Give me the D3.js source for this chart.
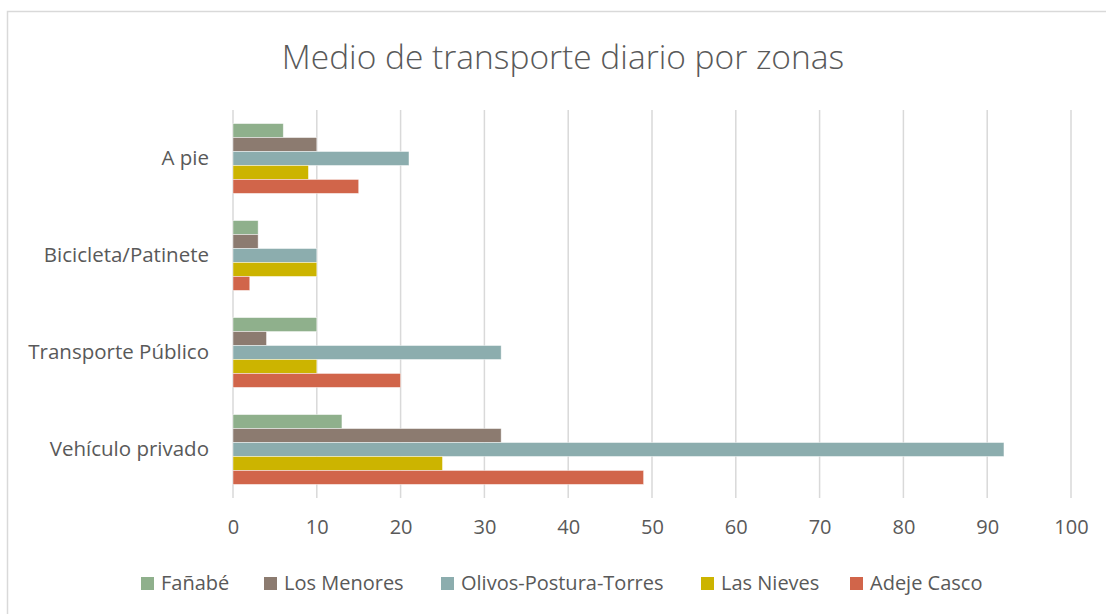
<!DOCTYPE html>
<html lang="es">
<head>
<meta charset="utf-8">
<title>Medio de transporte diario por zonas</title>
<script src="https://d3js.org/d3.v7.min.js"></script>
<style>
  body { margin: 0; background: #fff; }
  svg text { font-family: "Open Sans", "Noto Sans", sans-serif; fill: #595959; }
</style>
</head>
<body>
<div id="chart"></div>
<script>
  // categories (top to bottom) and zones
  var categories = ["A pie", "Bicicleta/Patinete", "Transporte Público", "Vehículo privado"];
  var zones = ["Fañabé", "Los Menores", "Olivos-Postura-Torres", "Las Nieves", "Adeje Casco"];
  var colors = ["#8fb08c", "#8c7b70", "#8cadae", "#ccb400", "#d1654a"];

  // values per zone, in category order
  var fanabe   = [6, 3, 10, 13];
  var menores  = [10, 3, 4, 32];
  var olivos   = [21, 10, 32, 92];
  var nieves   = [9, 10, 10, 25];
  var adeje    = [15, 2, 20, 49];
  var series = [fanabe, menores, olivos, nieves, adeje];

  var xTicks = [0, 10, 20, 30, 40, 50, 60, 70, 80, 90, 100];

  var svgWidth = 1106, svgHeight = 614,
      margin = {top: 110, right: 35, bottom: 116, left: 233},
      width = svgWidth - margin.left - margin.right,
      height = svgHeight - margin.top - margin.bottom;

  var svg = d3.select("#chart").append("svg")
      .attr("width", svgWidth)
      .attr("height", svgHeight);

  // chart frame (cut at right and bottom like the screenshot)
  svg.append("rect")
      .attr("x", 7.5).attr("y", 11.5)
      .attr("width", svgWidth + 20).attr("height", svgHeight + 20)
      .attr("fill", "none")
      .attr("stroke", "#d9d9d9")
      .attr("stroke-width", 1.5);

  svg.append("text")
      .attr("x", 563).attr("y", 69)
      .attr("text-anchor", "middle")
      .style("font-size", "33.5px")
      .style("font-weight", 300)
      .text("Medio de transporte diario por zonas");

  var g = svg.append("g")
      .attr("transform", "translate(" + margin.left + "," + margin.top + ")");

  var x = d3.scaleLinear().domain([0, 100]).range([0, width]);
  var y = d3.scaleBand().domain(categories).range([0, height])
      .paddingInner(0.28).paddingOuter(0.14);
  var y1 = d3.scaleBand().domain(zones).range([0, y.bandwidth()]);

  // gridlines
  g.selectAll("line.grid")
      .data(xTicks)
      .enter().append("line")
      .attr("class", "grid")
      .attr("x1", function(d) { return x(d); })
      .attr("x2", function(d) { return x(d); })
      .attr("y1", 0).attr("y2", height)
      .attr("stroke", "#d9d9d9")
      .attr("stroke-width", 1.5);

  // bars
  var groups = g.selectAll("g.cat")
      .data(categories)
      .enter().append("g")
      .attr("class", "cat")
      .attr("transform", function(d) { return "translate(0," + y(d) + ")"; });

  groups.selectAll("rect")
      .data(function(c, ci) {
        return zones.map(function(z, zi) { return {zone: z, i: zi, value: series[zi][ci]}; });
      })
      .enter().append("rect")
      .attr("x", 0)
      .attr("y", function(d) { return y1(d.zone); })
      .attr("width", function(d) { return x(d.value); })
      .attr("height", y1.bandwidth())
      .attr("fill", function(d) { return colors[d.i]; })
      .attr("stroke", "#ffffff")
      .attr("stroke-opacity", 0.6)
      .attr("stroke-width", 0.75);

  // x axis labels
  var xAxis = d3.axisBottom(x).tickValues(xTicks).tickSize(0).tickPadding(22);
  var xa = g.append("g")
      .attr("transform", "translate(0," + height + ")")
      .call(xAxis);
  xa.select(".domain").remove();
  xa.selectAll("text").style("font-size", "20px").attr("fill", "#595959");

  // y axis labels
  var yAxis = d3.axisLeft(y).tickSize(0).tickPadding(24);
  var ya = g.append("g").call(yAxis);
  ya.select(".domain").remove();
  ya.selectAll("text").style("font-size", "20.5px").attr("fill", "#595959");

  // legend
  var legendX = [141, 264, 441, 701, 850];
  var legend = svg.append("g").selectAll("g")
      .data(zones)
      .enter().append("g")
      .attr("transform", function(d, i) { return "translate(" + legendX[i] + ",583)"; });
  legend.append("rect")
      .attr("x", 0).attr("y", -6)
      .attr("width", 13).attr("height", 13)
      .attr("fill", function(d, i) { return colors[i]; });
  legend.append("text")
      .attr("x", 20).attr("dy", "0.35em")
      .style("font-size", "20px")
      .text(function(d) { return d; });
</script>
</body>
</html>
